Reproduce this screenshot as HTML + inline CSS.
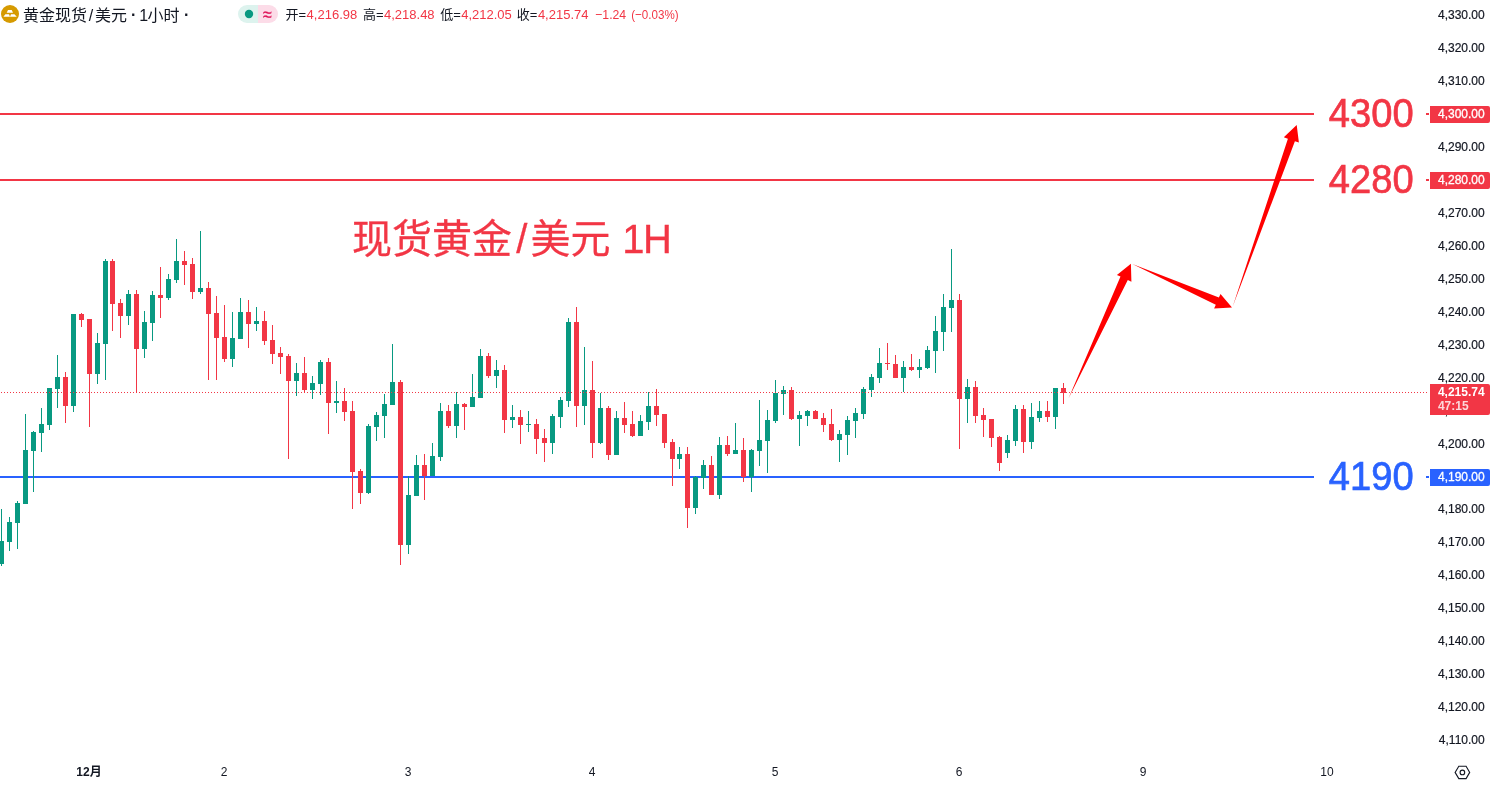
<!DOCTYPE html>
<html lang="zh-CN"><head><meta charset="utf-8"><title>黄金现货/美元 1小时</title>
<style>
html,body{margin:0;padding:0;background:#fff;}
body{width:1492px;height:786px;overflow:hidden;position:relative;font-family:"Liberation Sans", "Noto Sans CJK SC", sans-serif;}
svg{position:absolute;left:0;top:0;display:block;font-family:"Liberation Sans", "Noto Sans CJK SC", sans-serif;will-change:transform;}
</style></head><body>
<svg width="1492" height="786" viewBox="0 0 1492 786">
<rect x="0" y="113" width="1314" height="2" fill="#F23645"/>
<rect x="0" y="179" width="1314" height="2" fill="#F23645"/>
<rect x="0" y="476" width="1314" height="2" fill="#2962FF"/>
<g shape-rendering="crispEdges"><rect x="1" y="509" width="1" height="57" fill="#089981"/><rect x="-1" y="541" width="5" height="23" fill="#089981"/><rect x="9" y="517" width="1" height="34" fill="#089981"/><rect x="7" y="522" width="5" height="20" fill="#089981"/><rect x="17" y="501" width="1" height="48" fill="#089981"/><rect x="15" y="503" width="5" height="20" fill="#089981"/><rect x="25" y="414" width="1" height="90" fill="#089981"/><rect x="23" y="450" width="5" height="54" fill="#089981"/><rect x="33" y="431" width="1" height="61" fill="#089981"/><rect x="31" y="432" width="5" height="19" fill="#089981"/><rect x="41" y="408" width="1" height="44" fill="#089981"/><rect x="39" y="424" width="5" height="9" fill="#089981"/><rect x="49" y="388" width="1" height="42" fill="#089981"/><rect x="47" y="388" width="5" height="37" fill="#089981"/><rect x="57" y="355" width="1" height="53" fill="#089981"/><rect x="55" y="377" width="5" height="12" fill="#089981"/><rect x="65" y="372" width="1" height="51" fill="#F23645"/><rect x="63" y="377" width="5" height="29" fill="#F23645"/><rect x="73" y="314" width="1" height="98" fill="#089981"/><rect x="71" y="314" width="5" height="92" fill="#089981"/><rect x="81" y="313" width="1" height="14" fill="#F23645"/><rect x="79" y="314" width="5" height="6" fill="#F23645"/><rect x="89" y="319" width="1" height="108" fill="#F23645"/><rect x="87" y="319" width="5" height="55" fill="#F23645"/><rect x="97" y="333" width="1" height="51" fill="#089981"/><rect x="95" y="343" width="5" height="31" fill="#089981"/><rect x="105" y="259" width="1" height="121" fill="#089981"/><rect x="103" y="261" width="5" height="83" fill="#089981"/><rect x="112" y="259" width="1" height="72" fill="#F23645"/><rect x="110" y="261" width="5" height="43" fill="#F23645"/><rect x="120" y="299" width="1" height="39" fill="#F23645"/><rect x="118" y="303" width="5" height="13" fill="#F23645"/><rect x="128" y="290" width="1" height="35" fill="#089981"/><rect x="126" y="294" width="5" height="22" fill="#089981"/><rect x="136" y="290" width="1" height="103" fill="#F23645"/><rect x="134" y="294" width="5" height="55" fill="#F23645"/><rect x="144" y="311" width="1" height="47" fill="#089981"/><rect x="142" y="322" width="5" height="27" fill="#089981"/><rect x="152" y="291" width="1" height="50" fill="#089981"/><rect x="150" y="295" width="5" height="28" fill="#089981"/><rect x="160" y="267" width="1" height="51" fill="#F23645"/><rect x="158" y="295" width="5" height="3" fill="#F23645"/><rect x="168" y="274" width="1" height="26" fill="#089981"/><rect x="166" y="279" width="5" height="19" fill="#089981"/><rect x="176" y="239" width="1" height="44" fill="#089981"/><rect x="174" y="261" width="5" height="19" fill="#089981"/><rect x="184" y="251" width="1" height="34" fill="#F23645"/><rect x="182" y="261" width="5" height="4" fill="#F23645"/><rect x="192" y="258" width="1" height="41" fill="#F23645"/><rect x="190" y="264" width="5" height="28" fill="#F23645"/><rect x="200" y="231" width="1" height="63" fill="#089981"/><rect x="198" y="288" width="5" height="4" fill="#089981"/><rect x="208" y="282" width="1" height="98" fill="#F23645"/><rect x="206" y="288" width="5" height="26" fill="#F23645"/><rect x="216" y="296" width="1" height="84" fill="#F23645"/><rect x="214" y="313" width="5" height="25" fill="#F23645"/><rect x="224" y="305" width="1" height="57" fill="#F23645"/><rect x="222" y="337" width="5" height="22" fill="#F23645"/><rect x="232" y="312" width="1" height="55" fill="#089981"/><rect x="230" y="338" width="5" height="21" fill="#089981"/><rect x="240" y="298" width="1" height="41" fill="#089981"/><rect x="238" y="312" width="5" height="27" fill="#089981"/><rect x="248" y="300" width="1" height="48" fill="#F23645"/><rect x="246" y="312" width="5" height="12" fill="#F23645"/><rect x="256" y="307" width="1" height="24" fill="#089981"/><rect x="254" y="321" width="5" height="3" fill="#089981"/><rect x="264" y="311" width="1" height="34" fill="#F23645"/><rect x="262" y="321" width="5" height="20" fill="#F23645"/><rect x="272" y="325" width="1" height="39" fill="#F23645"/><rect x="270" y="340" width="5" height="14" fill="#F23645"/><rect x="280" y="347" width="1" height="27" fill="#F23645"/><rect x="278" y="353" width="5" height="4" fill="#F23645"/><rect x="288" y="354" width="1" height="105" fill="#F23645"/><rect x="286" y="356" width="5" height="25" fill="#F23645"/><rect x="296" y="363" width="1" height="33" fill="#089981"/><rect x="294" y="373" width="5" height="8" fill="#089981"/><rect x="304" y="357" width="1" height="36" fill="#F23645"/><rect x="302" y="373" width="5" height="17" fill="#F23645"/><rect x="312" y="376" width="1" height="23" fill="#089981"/><rect x="310" y="383" width="5" height="7" fill="#089981"/><rect x="320" y="360" width="1" height="35" fill="#089981"/><rect x="318" y="362" width="5" height="22" fill="#089981"/><rect x="328" y="358" width="1" height="76" fill="#F23645"/><rect x="326" y="362" width="5" height="41" fill="#F23645"/><rect x="336" y="381" width="1" height="32" fill="#089981"/><rect x="334" y="401" width="5" height="2" fill="#089981"/><rect x="344" y="388" width="1" height="33" fill="#F23645"/><rect x="342" y="401" width="5" height="11" fill="#F23645"/><rect x="352" y="401" width="1" height="108" fill="#F23645"/><rect x="350" y="411" width="5" height="61" fill="#F23645"/><rect x="360" y="469" width="1" height="35" fill="#F23645"/><rect x="358" y="471" width="5" height="22" fill="#F23645"/><rect x="368" y="424" width="1" height="70" fill="#089981"/><rect x="366" y="426" width="5" height="67" fill="#089981"/><rect x="376" y="412" width="1" height="29" fill="#089981"/><rect x="374" y="415" width="5" height="12" fill="#089981"/><rect x="384" y="394" width="1" height="44" fill="#089981"/><rect x="382" y="404" width="5" height="12" fill="#089981"/><rect x="392" y="344" width="1" height="61" fill="#089981"/><rect x="390" y="382" width="5" height="23" fill="#089981"/><rect x="400" y="380" width="1" height="185" fill="#F23645"/><rect x="398" y="382" width="5" height="163" fill="#F23645"/><rect x="408" y="476" width="1" height="78" fill="#089981"/><rect x="406" y="495" width="5" height="50" fill="#089981"/><rect x="416" y="455" width="1" height="41" fill="#089981"/><rect x="414" y="465" width="5" height="31" fill="#089981"/><rect x="424" y="454" width="1" height="46" fill="#F23645"/><rect x="422" y="465" width="5" height="11" fill="#F23645"/><rect x="432" y="443" width="1" height="33" fill="#089981"/><rect x="430" y="456" width="5" height="20" fill="#089981"/><rect x="440" y="403" width="1" height="58" fill="#089981"/><rect x="438" y="411" width="5" height="46" fill="#089981"/><rect x="448" y="405" width="1" height="23" fill="#F23645"/><rect x="446" y="411" width="5" height="15" fill="#F23645"/><rect x="456" y="392" width="1" height="46" fill="#089981"/><rect x="454" y="404" width="5" height="22" fill="#089981"/><rect x="464" y="403" width="1" height="27" fill="#F23645"/><rect x="462" y="404" width="5" height="3" fill="#F23645"/><rect x="472" y="374" width="1" height="33" fill="#089981"/><rect x="470" y="397" width="5" height="10" fill="#089981"/><rect x="480" y="349" width="1" height="49" fill="#089981"/><rect x="478" y="356" width="5" height="42" fill="#089981"/><rect x="488" y="353" width="1" height="25" fill="#F23645"/><rect x="486" y="356" width="5" height="20" fill="#F23645"/><rect x="496" y="360" width="1" height="28" fill="#089981"/><rect x="494" y="370" width="5" height="6" fill="#089981"/><rect x="504" y="365" width="1" height="68" fill="#F23645"/><rect x="502" y="370" width="5" height="50" fill="#F23645"/><rect x="512" y="405" width="1" height="23" fill="#089981"/><rect x="510" y="417" width="5" height="3" fill="#089981"/><rect x="520" y="410" width="1" height="34" fill="#F23645"/><rect x="518" y="417" width="5" height="8" fill="#F23645"/><rect x="528" y="411" width="1" height="21" fill="#089981"/><rect x="526" y="424" width="5" height="1" fill="#089981"/><rect x="536" y="419" width="1" height="35" fill="#F23645"/><rect x="534" y="424" width="5" height="15" fill="#F23645"/><rect x="544" y="429" width="1" height="33" fill="#F23645"/><rect x="542" y="438" width="5" height="5" fill="#F23645"/><rect x="552" y="414" width="1" height="40" fill="#089981"/><rect x="550" y="416" width="5" height="27" fill="#089981"/><rect x="560" y="397" width="1" height="31" fill="#089981"/><rect x="558" y="400" width="5" height="17" fill="#089981"/><rect x="568" y="318" width="1" height="89" fill="#089981"/><rect x="566" y="322" width="5" height="79" fill="#089981"/><rect x="576" y="307" width="1" height="120" fill="#F23645"/><rect x="574" y="322" width="5" height="84" fill="#F23645"/><rect x="584" y="347" width="1" height="78" fill="#089981"/><rect x="582" y="390" width="5" height="16" fill="#089981"/><rect x="592" y="361" width="1" height="97" fill="#F23645"/><rect x="590" y="390" width="5" height="53" fill="#F23645"/><rect x="600" y="393" width="1" height="51" fill="#089981"/><rect x="598" y="408" width="5" height="35" fill="#089981"/><rect x="608" y="406" width="1" height="54" fill="#F23645"/><rect x="606" y="408" width="5" height="47" fill="#F23645"/><rect x="616" y="411" width="1" height="44" fill="#089981"/><rect x="614" y="418" width="5" height="37" fill="#089981"/><rect x="624" y="402" width="1" height="31" fill="#F23645"/><rect x="622" y="418" width="5" height="7" fill="#F23645"/><rect x="632" y="411" width="1" height="26" fill="#F23645"/><rect x="630" y="424" width="5" height="12" fill="#F23645"/><rect x="640" y="415" width="1" height="21" fill="#089981"/><rect x="638" y="421" width="5" height="15" fill="#089981"/><rect x="648" y="392" width="1" height="38" fill="#089981"/><rect x="646" y="406" width="5" height="16" fill="#089981"/><rect x="656" y="389" width="1" height="37" fill="#F23645"/><rect x="654" y="406" width="5" height="9" fill="#F23645"/><rect x="664" y="414" width="1" height="34" fill="#F23645"/><rect x="662" y="414" width="5" height="29" fill="#F23645"/><rect x="672" y="439" width="1" height="47" fill="#F23645"/><rect x="670" y="442" width="5" height="17" fill="#F23645"/><rect x="679" y="447" width="1" height="22" fill="#089981"/><rect x="677" y="454" width="5" height="5" fill="#089981"/><rect x="687" y="447" width="1" height="81" fill="#F23645"/><rect x="685" y="454" width="5" height="54" fill="#F23645"/><rect x="695" y="476" width="1" height="38" fill="#089981"/><rect x="693" y="477" width="5" height="31" fill="#089981"/><rect x="703" y="460" width="1" height="29" fill="#089981"/><rect x="701" y="465" width="5" height="13" fill="#089981"/><rect x="711" y="456" width="1" height="39" fill="#F23645"/><rect x="709" y="465" width="5" height="30" fill="#F23645"/><rect x="719" y="437" width="1" height="62" fill="#089981"/><rect x="717" y="445" width="5" height="50" fill="#089981"/><rect x="727" y="436" width="1" height="20" fill="#F23645"/><rect x="725" y="445" width="5" height="9" fill="#F23645"/><rect x="735" y="423" width="1" height="31" fill="#089981"/><rect x="733" y="450" width="5" height="4" fill="#089981"/><rect x="743" y="438" width="1" height="44" fill="#F23645"/><rect x="741" y="450" width="5" height="27" fill="#F23645"/><rect x="751" y="449" width="1" height="43" fill="#089981"/><rect x="749" y="450" width="5" height="27" fill="#089981"/><rect x="759" y="400" width="1" height="66" fill="#089981"/><rect x="757" y="440" width="5" height="11" fill="#089981"/><rect x="767" y="410" width="1" height="63" fill="#089981"/><rect x="765" y="420" width="5" height="21" fill="#089981"/><rect x="775" y="380" width="1" height="43" fill="#089981"/><rect x="773" y="393" width="5" height="28" fill="#089981"/><rect x="783" y="386" width="1" height="29" fill="#089981"/><rect x="781" y="390" width="5" height="4" fill="#089981"/><rect x="791" y="387" width="1" height="33" fill="#F23645"/><rect x="789" y="390" width="5" height="29" fill="#F23645"/><rect x="799" y="411" width="1" height="35" fill="#089981"/><rect x="797" y="415" width="5" height="4" fill="#089981"/><rect x="807" y="410" width="1" height="16" fill="#089981"/><rect x="805" y="411" width="5" height="5" fill="#089981"/><rect x="815" y="410" width="1" height="9" fill="#F23645"/><rect x="813" y="411" width="5" height="8" fill="#F23645"/><rect x="823" y="413" width="1" height="19" fill="#F23645"/><rect x="821" y="418" width="5" height="7" fill="#F23645"/><rect x="831" y="409" width="1" height="32" fill="#F23645"/><rect x="829" y="424" width="5" height="16" fill="#F23645"/><rect x="839" y="430" width="1" height="32" fill="#089981"/><rect x="837" y="434" width="5" height="6" fill="#089981"/><rect x="847" y="416" width="1" height="39" fill="#089981"/><rect x="845" y="420" width="5" height="15" fill="#089981"/><rect x="855" y="408" width="1" height="30" fill="#089981"/><rect x="853" y="413" width="5" height="8" fill="#089981"/><rect x="863" y="387" width="1" height="32" fill="#089981"/><rect x="861" y="389" width="5" height="25" fill="#089981"/><rect x="871" y="374" width="1" height="23" fill="#089981"/><rect x="869" y="377" width="5" height="13" fill="#089981"/><rect x="879" y="348" width="1" height="35" fill="#089981"/><rect x="877" y="363" width="5" height="15" fill="#089981"/><rect x="887" y="343" width="1" height="27" fill="#F23645"/><rect x="885" y="363" width="5" height="1" fill="#F23645"/><rect x="895" y="355" width="1" height="23" fill="#F23645"/><rect x="893" y="364" width="5" height="14" fill="#F23645"/><rect x="903" y="361" width="1" height="31" fill="#089981"/><rect x="901" y="367" width="5" height="11" fill="#089981"/><rect x="911" y="354" width="1" height="17" fill="#F23645"/><rect x="909" y="367" width="5" height="3" fill="#F23645"/><rect x="919" y="359" width="1" height="19" fill="#089981"/><rect x="917" y="367" width="5" height="3" fill="#089981"/><rect x="927" y="346" width="1" height="23" fill="#089981"/><rect x="925" y="350" width="5" height="18" fill="#089981"/><rect x="935" y="316" width="1" height="57" fill="#089981"/><rect x="933" y="331" width="5" height="20" fill="#089981"/><rect x="943" y="294" width="1" height="57" fill="#089981"/><rect x="941" y="307" width="5" height="25" fill="#089981"/><rect x="951" y="249" width="1" height="83" fill="#089981"/><rect x="949" y="300" width="5" height="8" fill="#089981"/><rect x="959" y="294" width="1" height="155" fill="#F23645"/><rect x="957" y="300" width="5" height="99" fill="#F23645"/><rect x="967" y="379" width="1" height="44" fill="#089981"/><rect x="965" y="387" width="5" height="12" fill="#089981"/><rect x="975" y="381" width="1" height="42" fill="#F23645"/><rect x="973" y="387" width="5" height="29" fill="#F23645"/><rect x="983" y="408" width="1" height="29" fill="#F23645"/><rect x="981" y="415" width="5" height="5" fill="#F23645"/><rect x="991" y="419" width="1" height="28" fill="#F23645"/><rect x="989" y="419" width="5" height="19" fill="#F23645"/><rect x="999" y="436" width="1" height="35" fill="#F23645"/><rect x="997" y="437" width="5" height="26" fill="#F23645"/><rect x="1007" y="435" width="1" height="23" fill="#089981"/><rect x="1005" y="440" width="5" height="13" fill="#089981"/><rect x="1015" y="405" width="1" height="41" fill="#089981"/><rect x="1013" y="409" width="5" height="32" fill="#089981"/><rect x="1023" y="405" width="1" height="48" fill="#F23645"/><rect x="1021" y="409" width="5" height="33" fill="#F23645"/><rect x="1031" y="403" width="1" height="46" fill="#089981"/><rect x="1029" y="417" width="5" height="25" fill="#089981"/><rect x="1039" y="401" width="1" height="21" fill="#089981"/><rect x="1037" y="411" width="5" height="7" fill="#089981"/><rect x="1047" y="401" width="1" height="21" fill="#F23645"/><rect x="1045" y="411" width="5" height="6" fill="#F23645"/><rect x="1055" y="388" width="1" height="41" fill="#089981"/><rect x="1053" y="388" width="5" height="29" fill="#089981"/><rect x="1063" y="383" width="1" height="21" fill="#F23645"/><rect x="1061" y="388" width="5" height="5" fill="#F23645"/></g>
<line x1="1" y1="392.5" x2="1429" y2="392.5" stroke="#F23645" stroke-width="1" stroke-dasharray="1 2" shape-rendering="crispEdges"/>
<polygon fill="#FF0000" points="1068.5,398.6 1127.8,280.0 1131.4,281.7 1130.9,263.8 1116.9,275.0 1120.5,276.6"/>
<polygon fill="#FF0000" points="1132.3,264.1 1215.8,304.8 1214.1,308.5 1232.0,307.6 1220.5,293.9 1218.9,297.6"/>
<polygon fill="#FF0000" points="1232.8,306.3 1294.9,141.2 1298.9,142.6 1296.7,124.9 1283.8,137.3 1287.9,138.8"/>
<text x="352" y="253" font-size="40" fill="#F23645" stroke="#F23645" stroke-width="0.3">现货黄金<tspan dx="4.3">/</tspan><tspan dx="3.1">美元</tspan><tspan dx="0.5"> 1</tspan><tspan dx="-1.5">H</tspan></text>
<text transform="translate(1328.8,126.7) scale(0.93,1)" font-size="41" fill="#F23645" stroke="#F23645" stroke-width="0.7">4300</text>
<text transform="translate(1328.8,192.7) scale(0.93,1)" font-size="41" fill="#F23645" stroke="#F23645" stroke-width="0.7">4280</text>
<text transform="translate(1328.8,489.7) scale(0.93,1)" font-size="41" fill="#2962FF" stroke="#2962FF" stroke-width="0.7">4190</text>
<text x="1484.7" y="19.3" font-size="12" fill="#131722" stroke="#131722" stroke-width="0.2" text-anchor="end">4,330.00</text>
<text x="1484.7" y="52.2" font-size="12" fill="#131722" stroke="#131722" stroke-width="0.2" text-anchor="end">4,320.00</text>
<text x="1484.7" y="85.2" font-size="12" fill="#131722" stroke="#131722" stroke-width="0.2" text-anchor="end">4,310.00</text>
<text x="1484.7" y="151.1" font-size="12" fill="#131722" stroke="#131722" stroke-width="0.2" text-anchor="end">4,290.00</text>
<text x="1484.7" y="216.9" font-size="12" fill="#131722" stroke="#131722" stroke-width="0.2" text-anchor="end">4,270.00</text>
<text x="1484.7" y="249.9" font-size="12" fill="#131722" stroke="#131722" stroke-width="0.2" text-anchor="end">4,260.00</text>
<text x="1484.7" y="282.8" font-size="12" fill="#131722" stroke="#131722" stroke-width="0.2" text-anchor="end">4,250.00</text>
<text x="1484.7" y="315.8" font-size="12" fill="#131722" stroke="#131722" stroke-width="0.2" text-anchor="end">4,240.00</text>
<text x="1484.7" y="348.7" font-size="12" fill="#131722" stroke="#131722" stroke-width="0.2" text-anchor="end">4,230.00</text>
<text x="1484.7" y="381.7" font-size="12" fill="#131722" stroke="#131722" stroke-width="0.2" text-anchor="end">4,220.00</text>
<text x="1484.7" y="414.6" font-size="12" fill="#131722" stroke="#131722" stroke-width="0.2" text-anchor="end">4,210.00</text>
<text x="1484.7" y="447.5" font-size="12" fill="#131722" stroke="#131722" stroke-width="0.2" text-anchor="end">4,200.00</text>
<text x="1484.7" y="513.4" font-size="12" fill="#131722" stroke="#131722" stroke-width="0.2" text-anchor="end">4,180.00</text>
<text x="1484.7" y="546.4" font-size="12" fill="#131722" stroke="#131722" stroke-width="0.2" text-anchor="end">4,170.00</text>
<text x="1484.7" y="579.3" font-size="12" fill="#131722" stroke="#131722" stroke-width="0.2" text-anchor="end">4,160.00</text>
<text x="1484.7" y="612.2" font-size="12" fill="#131722" stroke="#131722" stroke-width="0.2" text-anchor="end">4,150.00</text>
<text x="1484.7" y="645.2" font-size="12" fill="#131722" stroke="#131722" stroke-width="0.2" text-anchor="end">4,140.00</text>
<text x="1484.7" y="678.1" font-size="12" fill="#131722" stroke="#131722" stroke-width="0.2" text-anchor="end">4,130.00</text>
<text x="1484.7" y="711.1" font-size="12" fill="#131722" stroke="#131722" stroke-width="0.2" text-anchor="end">4,120.00</text>
<text x="1484.7" y="744.0" font-size="12" fill="#131722" stroke="#131722" stroke-width="0.2" text-anchor="end">4,110.00</text>
<rect x="1426" y="113" width="3" height="2" fill="#F23645"/>
<path d="M1430 106H1488a2 2 0 0 1 2 2V121a2 2 0 0 1 -2 2H1430Z" fill="#F23645"/>
<text x="1484.7" y="117.8" font-size="12" fill="#fff" stroke="#fff" stroke-width="0.3" text-anchor="end">4,300.00</text>
<rect x="1426" y="179" width="3" height="2" fill="#F23645"/>
<path d="M1430 172H1488a2 2 0 0 1 2 2V187a2 2 0 0 1 -2 2H1430Z" fill="#F23645"/>
<text x="1484.7" y="183.8" font-size="12" fill="#fff" stroke="#fff" stroke-width="0.3" text-anchor="end">4,280.00</text>
<rect x="1426" y="476" width="3" height="2" fill="#2962FF"/>
<path d="M1430 469H1488a2 2 0 0 1 2 2V484a2 2 0 0 1 -2 2H1430Z" fill="#2962FF"/>
<text x="1484.7" y="480.8" font-size="12" fill="#fff" stroke="#fff" stroke-width="0.3" text-anchor="end">4,190.00</text>
<path d="M1430 384H1488a2 2 0 0 1 2 2V413a2 2 0 0 1 -2 2H1430Z" fill="#F23645"/>
<text x="1437.9" y="395.9" font-size="12" font-weight="bold" fill="#fff">4,215.74</text>
<text x="1437.9" y="410" font-size="12" font-weight="bold" fill="#fff" fill-opacity="0.8">47:15</text>
<text x="89" y="775.5" font-size="12" fill="#131722" text-anchor="middle" font-weight="bold">12月</text>
<text x="224" y="775.5" font-size="12" fill="#131722" text-anchor="middle">2</text>
<text x="408" y="775.5" font-size="12" fill="#131722" text-anchor="middle">3</text>
<text x="592" y="775.5" font-size="12" fill="#131722" text-anchor="middle">4</text>
<text x="775" y="775.5" font-size="12" fill="#131722" text-anchor="middle">5</text>
<text x="959" y="775.5" font-size="12" fill="#131722" text-anchor="middle">6</text>
<text x="1143" y="775.5" font-size="12" fill="#131722" text-anchor="middle">9</text>
<text x="1327" y="775.5" font-size="12" fill="#131722" text-anchor="middle">10</text>
<polygon points="1469.7,772.4 1466.1,778.6 1458.8,778.6 1455.1,772.4 1458.8,766.2 1466.1,766.2" fill="none" stroke="#131722" stroke-width="1.1"/>
<circle cx="1462.4" cy="772.4" r="2.3" fill="none" stroke="#131722" stroke-width="1.1"/>
<circle cx="10" cy="14" r="9" fill="#D69A00"/>
<path fill="#fff" d="M8 9.9H11.7L13 12.7H6.7ZM5.4 14.2H9L10 16.8H3.4ZM11 14.2H14.4L16.8 16.8H10Z"/>
<text y="21" font-size="16" fill="#131722"><tspan x="23">黄金现货</tspan><tspan x="88.8">/</tspan><tspan x="95">美元</tspan><tspan x="126.5" y="19.8" font-weight="bold"> · </tspan><tspan x="139.3" y="21">1</tspan><tspan x="147.5">小时</tspan><tspan x="179.5" y="19.8" font-weight="bold"> ·</tspan></text>
<path d="M247 5H258V23H247a9 9 0 0 1 0-18Z" fill="#DDF3EE"/>
<path d="M258 5H269a9 9 0 0 1 0 18H258Z" fill="#FCDCE8"/>
<circle cx="249" cy="14" r="4.2" fill="#089981"/>
<text transform="translate(267.4,20.9) scale(1,1.22)" font-size="16" fill="#DE1458" stroke="#DE1458" stroke-width="0.25" text-anchor="middle">≈</text>
<text y="18.6" font-size="13"><tspan x="285.4" fill="#131722">开=</tspan><tspan x="306.6" fill="#F23645">4,216.98</tspan><tspan x="359.3" fill="#131722"> </tspan><tspan x="362.9" fill="#131722">高=</tspan><tspan x="384.0" fill="#F23645">4,218.48</tspan><tspan x="436.6" fill="#131722"> </tspan><tspan x="440.2" fill="#131722">低=</tspan><tspan x="461.2" fill="#F23645">4,212.05</tspan><tspan x="513.2" fill="#131722"> </tspan><tspan x="516.8" fill="#131722">收=</tspan><tspan x="537.9" fill="#F23645">4,215.74</tspan><tspan x="591.6" fill="#F23645"> </tspan><tspan x="595.2" fill="#F23645" textLength="31" lengthAdjust="spacingAndGlyphs">−1.24</tspan><tspan x="627.6" fill="#F23645"> </tspan><tspan x="631.2" fill="#F23645" textLength="47.4" lengthAdjust="spacingAndGlyphs">(−0.03%)</tspan></text>
</svg>
</body></html>
